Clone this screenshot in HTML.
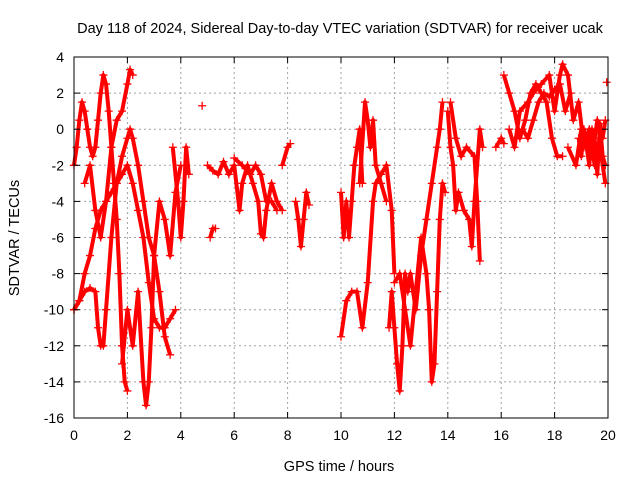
<!DOCTYPE html>
<html><head><meta charset="utf-8"><style>
body{margin:0;background:#fff;}
svg{display:block;font-family:"Liberation Sans",sans-serif;}
</style></head><body>
<svg id="chart" width="640" height="480">
<rect width="640" height="480" fill="#fff"/>
<text x="340" y="33" text-anchor="middle" font-size="14.5">Day 118 of 2024, Sidereal Day-to-day VTEC variation (SDTVAR) for receiver ucak</text>
<text x="339" y="471" text-anchor="middle" font-size="14.5">GPS time / hours</text>
<text transform="translate(19,238) rotate(-90)" text-anchor="middle" font-size="14.5">SDTVAR / TECUs</text>
<g id="grid"></g><g id="marks"></g>
<rect x="74" y="57" width="534" height="361" fill="none" stroke="#000" stroke-width="1"/>
</svg>
<script>
const xTicks=[0,2,4,6,8,10,12,14,16,18,20];
const yTicks=[-16,-14,-12,-10,-8,-6,-4,-2,0,2,4];
const t1=[[0,-2],[0.1,-1],[0.2,0.5],[0.3,1.5],[0.4,1],[0.5,0],[0.6,-1],[0.7,-1.5],[0.8,-1],[0.9,0.5],[1.0,2],[1.1,3],[1.2,2.5],[1.3,1],[1.4,-1],[1.5,-3],[1.6,-5],[1.7,-8],[1.8,-12],[1.9,-14],[2.0,-14.5]];
const t2=[[0,-10],[0.2,-9.5],[0.4,-8],[0.6,-7],[0.8,-5.5],[1.0,-4.5],[1.2,-4],[1.4,-3.5],[1.6,-3],[1.8,-2.5],[2.0,-2],[2.2,-3],[2.4,-4.5],[2.6,-6],[2.8,-8.5],[3.0,-10.5],[3.2,-11],[3.4,-11],[3.6,-10.5],[3.8,-10]];
const t3=[[0,-10],[0.2,-9.5],[0.4,-9],[0.6,-8.8],[0.8,-9],[0.9,-11],[1.0,-12],[1.1,-12],[1.2,-10],[1.4,-6],[1.6,-3],[1.8,-1.5],[2.0,-0.5],[2.1,0],[2.2,-0.5],[2.4,-2],[2.6,-4],[2.8,-6],[3.0,-7],[3.2,-9],[3.4,-11.5],[3.6,-12.5]];
const t4=[[0.4,-3],[0.6,-2],[0.8,-4.5],[1.0,-6],[1.2,-4],[1.4,-1],[1.6,0.5],[1.8,1],[2.0,2.5],[2.1,3.3],[2.2,3]];
const t5=[[1.8,-13],[2.0,-10],[2.2,-12],[2.4,-9],[2.6,-14],[2.7,-15.3],[2.8,-14],[2.9,-11],[3.0,-7],[3.2,-4],[3.4,-5],[3.6,-7],[3.8,-3.5],[4.0,-2]];
const t6=[[3.7,-1],[3.9,-4],[4.0,-6],[4.1,-4],[4.2,-1],[4.3,-2.5]];
const t7=[[5.1,-6],[5.2,-5.5],[5.3,-5.5]];
const t8=[[5.0,-2],[5.2,-2.3],[5.4,-2.5],[5.6,-1.8],[5.8,-2.5],[6.0,-2],[6.2,-4.5],[6.3,-3],[6.5,-2],[6.7,-3],[6.9,-4],[7.0,-5.8],[7.1,-6],[7.2,-4.5],[7.4,-3],[7.6,-4],[7.8,-4.5]];
const t9=[[6.0,-1.6],[6.3,-2],[6.6,-2.5],[6.8,-2],[7.0,-2.5],[7.2,-4],[7.4,-4],[7.6,-4.5]];
const t10=[[7.8,-2],[8.0,-1],[8.1,-0.8]];
const t11=[[8.3,-4],[8.4,-5],[8.5,-6.5],[8.6,-5],[8.7,-3.5],[8.8,-4.2]];
const t12=[[10.0,-3.5],[10.1,-6],[10.2,-4],[10.3,-6],[10.4,-4],[10.5,-2],[10.6,-1],[10.7,0],[10.8,-3]];
const t13=[[10.0,-11.5],[10.2,-9.5],[10.4,-9],[10.6,-9],[10.8,-11],[11.0,-8.5],[11.2,-4],[11.3,-3],[11.5,-2.5],[11.7,-2],[11.9,-4.5],[12.0,-8]];
const t14=[[10.7,-3],[10.9,1.5],[11.0,0.5],[11.1,-1],[11.2,0.5],[11.3,-2],[11.5,-3],[11.7,-4]];
const t15=[[11.8,-11],[11.9,-9],[12.0,-11],[12.1,-13],[12.2,-14.5],[12.3,-12],[12.4,-8],[12.5,-9],[12.6,-8],[12.8,-10],[13.0,-7],[13.2,-5],[13.4,-3],[13.6,-1],[13.7,0],[13.8,1.5]];
const t16=[[12.0,-8.5],[12.2,-8],[12.4,-10],[12.6,-12],[12.8,-9],[13.0,-6],[13.2,-8],[13.3,-10],[13.4,-14],[13.5,-13],[13.6,-9],[13.7,-5],[13.8,-3],[13.9,-3.5]];
const t17=[[14.0,1],[14.1,-1],[14.2,-2],[14.3,-4.5],[14.4,-3.5],[14.6,-4.5],[14.8,-5],[14.9,-6.5],[15.0,-4],[15.2,0],[15.3,-1]];
const t18=[[14.1,1.5],[14.3,-0.5],[14.5,-1.5],[14.7,-1],[15.0,-1.5],[15.1,-4],[15.2,-7.3]];
const t19=[[15.8,-1],[16.0,-0.5],[16.1,-0.8]];
const t20=[[16.1,3],[16.3,2],[16.5,1],[16.7,-0.5],[16.9,0.5],[17.1,2],[17.3,2.5],[17.5,2],[17.7,1.5],[17.9,-0.5],[18.1,-1.5],[18.3,-1.5]];
const t21=[[16.3,0],[16.5,-1],[16.7,1],[17.0,1.5],[17.2,2],[17.5,2.5],[17.8,3],[18.0,1],[18.2,3],[18.3,3.6],[18.5,3],[18.7,0.5],[18.9,1.5],[19.1,-1],[19.3,0],[19.5,-2],[19.7,-1],[19.9,-3]];
const t22=[[18.5,-1],[18.8,-2],[19.0,0],[19.2,-0.5],[19.4,-1.5],[19.6,0.5],[19.8,-0.5],[19.9,0.5]];
const t23=[[19.95,2.6]];
const t24=[[4.8,1.3]];
const t25=[[18.9,-0.5],[19.0,-1.5],[19.1,0],[19.2,-1],[19.3,-2],[19.4,0],[19.5,-0.5],[19.6,-2.5],[19.7,0.3],[19.8,-1.5],[19.9,-2]];
const t26=[[16.8,0],[17.0,-0.5],[17.2,0.5],[17.4,1.5],[17.6,2],[17.8,1.8],[18.0,2.2],[18.2,2.5],[18.4,1],[18.6,2]];
const tracks=[t1,t2,t3,t4,t5,t6,t7,t8,t9,t10,t11,t12,t13,t14,t15,t16,t17,t18,t19,t20,t21,t22,t23,t24,t25,t26];
const X0=74,X1=608,Y0=418,Y1=57;
const sx=v=>X0+(v-0)/(20-0)*(X1-X0);
const sy=v=>Y0-(v+16)/(20)*(Y0-Y1);
const NS="http://www.w3.org/2000/svg";
const grid=document.getElementById('grid'),marks=document.getElementById('marks'),svg=document.getElementById('chart');
function mk(tag,attrs,parent){const e=document.createElementNS(NS,tag);for(const k in attrs)e.setAttribute(k,attrs[k]);parent.appendChild(e);return e;}
xTicks.forEach(v=>{const x=sx(v);
 const g=mk('line',{x1:x,x2:x,y1:Y1,y2:Y0,stroke:'#a0a0a0','stroke-dasharray':'2,3'},grid);
 
 
 const t=mk('text',{x:x,y:Y0+22,'text-anchor':'middle','font-size':'14'},svg);t.textContent=v;
 
 
 mk('line',{x1:x,x2:x,y1:Y0,y2:Y0-6,stroke:'#000'},svg);mk('line',{x1:x,x2:x,y1:Y1,y2:Y1+6,stroke:'#000'},svg);});
yTicks.forEach(v=>{const y=sy(v);
 const g=mk('line',{x1:X0,x2:X1,y1:y,y2:y,stroke:'#a0a0a0','stroke-dasharray':'2,3'},grid);
 
 
 const t=mk('text',{x:X0-10,y:y+5,'text-anchor':'end','font-size':'14'},svg);t.textContent=v;
 
 
 mk('line',{x1:X0,x2:X0+6,y1:y,y2:y,stroke:'#000'},svg);mk('line',{x1:X1,x2:X1-6,y1:y,y2:y,stroke:'#000'},svg);});
tracks.forEach(tr=>{
 const pl=mk('polyline',{points:tr.map(p=>sx(p[0])+','+sy(p[1])).join(' '),fill:'none',stroke:'#f00','stroke-width':'4','stroke-linejoin':'round'},marks);
 
 
 tr.forEach(p=>{const x=sx(p[0]),y=sy(p[1]);
  const m=mk('path',{d:`M${x-4},${y}h8M${x},${y-4}v8`,stroke:'#f00','stroke-width':'1.3'},marks);
  
  });
});
</script>
</body></html>
